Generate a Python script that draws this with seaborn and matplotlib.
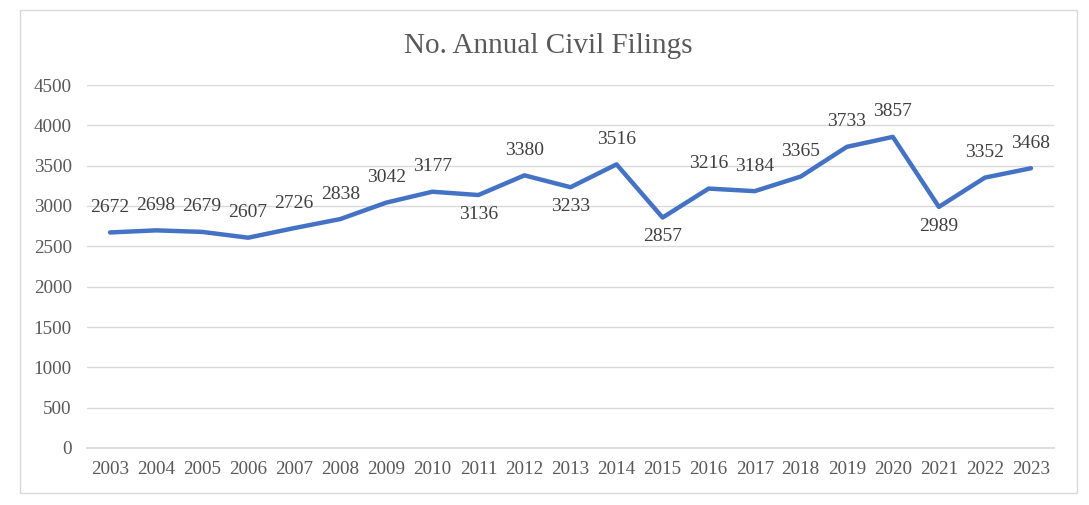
import matplotlib
matplotlib.use("Agg")
import matplotlib.pyplot as plt
import seaborn as sns
import pandas as pd
from matplotlib.patches import Rectangle

years = [str(y) for y in range(2003, 2024)]
filings = [2672, 2698, 2679, 2607, 2726, 2838, 3042, 3177, 3136, 3380, 3233,
           3516, 2857, 3216, 3184, 3365, 3733, 3857, 2989, 3352, 3468]
below_labels = ["2011", "2013", "2015", "2021"]
y_ticks = [0, 500, 1000, 1500, 2000, 2500, 3000, 3500, 4000, 4500]

sns.set_theme(style="white")
plt.rcParams['font.family'] = ['Liberation Serif', 'DejaVu Serif']

txt = "#595959"
df = pd.DataFrame({"year": years, "filings": filings})

fig = plt.figure(figsize=(10.89, 5.05), dpi=100)
fig.patches.append(Rectangle((20/1089, 1-493/505), 1057/1089, 483/505,
                             transform=fig.transFigure, fill=False,
                             edgecolor="#D9D9D9", linewidth=1.0))
ax = fig.add_axes([87/1089, 1-448/505, 967/1089, 363/505])

sns.lineplot(data=df, x="year", y="filings", ax=ax, color="#4472C4",
             linewidth=3.2, sort=False)

ax.set_xlim(-0.5, len(years) - 0.5)
ax.set_ylim(0, 4500)
ax.set_yticks(y_ticks)
ax.grid(axis="y", color="#D9D9D9", linewidth=1.0)
ax.grid(axis="x", visible=False)
ax.set_axisbelow(True)
for s in ax.spines.values():
    s.set_visible(False)
ax.spines["bottom"].set_visible(True)
ax.spines["bottom"].set_color("#D9D9D9")
ax.tick_params(axis="both", length=0, labelsize=13.8, colors=txt)
ax.tick_params(axis="y", pad=11)
ax.tick_params(axis="x", pad=9.5)
ax.set_xlabel("")
ax.set_ylabel("")

for i, (yr, v) in enumerate(zip(years, filings)):
    dy = -14 if yr in below_labels else 18
    ax.annotate(str(v), (i, v), xytext=(0, dy), textcoords="offset points",
                ha="center", va="center", fontsize=14, color="#404040")

fig.text(548/1089, 1-46/505, "No. Annual Civil Filings", ha="center",
         va="center", fontsize=21, color=txt)

fig.savefig("out.png", dpi=100)
